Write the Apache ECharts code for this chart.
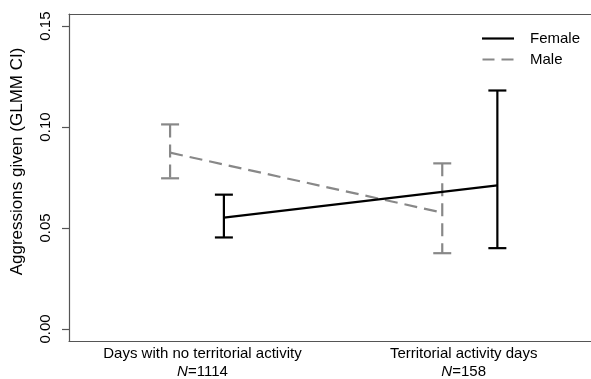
<!DOCTYPE html>
<html>
<head>
<meta charset="utf-8">
<script src="https://cdn.jsdelivr.net/npm/echarts@6/dist/echarts.min.js"></script>
<style>
  html, body { margin: 0; padding: 0; background: #fff; }
  #chart { width: 591px; height: 379px; }
</style>
</head>
<body>
<div id="chart"></div>
<script>
// category positions on the x scale and their labels
const categoryPos = [1, 2];
const categoryLabels = ['Days with no territorial activity', 'Territorial activity days'];
const sampleSizes = ['1114', '158'];

// dodged x positions of each group
const femaleX = [1.082, 2.129];
const maleX = [0.876, 1.918];

// GLMM estimates and CI bounds
const femaleMean = [0.0551, 0.0711];
const femaleLow = [0.0453, 0.0400];
const femaleHigh = [0.0665, 0.1181];
const maleMean = [0.0873, 0.0576];
const maleLow = [0.0746, 0.0375];
const maleHigh = [0.1013, 0.0820];

const yTicks = [0, 0.05, 0.10, 0.15];

const FONT = 'Liberation Sans, Arial, sans-serif';
const BOX = '#555';

const chart = echarts.init(document.getElementById('chart'));

function errorBarSeries(name, xs, lows, highs, color, dashed) {
    return {
        name: name,
        type: 'custom',
        silent: true,
        data: xs.map((x, i) => [x, lows[i], highs[i]]),
        renderItem: function (params, api) {
            const lo = api.coord([api.value(0), api.value(1)]);
            const hi = api.coord([api.value(0), api.value(2)]);
            const half = 9;
            const style = { stroke: color, lineWidth: 2.2 };
            const stemStyle = { stroke: color, lineWidth: 2.2, lineDash: dashed ? [13, 7] : null };
            return {
                type: 'group',
                children: [
                    { type: 'line', shape: { x1: hi[0], y1: hi[1], x2: lo[0], y2: lo[1] }, style: stemStyle },
                    { type: 'line', shape: { x1: hi[0] - half, y1: hi[1], x2: hi[0] + half, y2: hi[1] }, style: style },
                    { type: 'line', shape: { x1: lo[0] - half, y1: lo[1], x2: lo[0] + half, y2: lo[1] }, style: style }
                ]
            };
        },
        z: 3
    };
}

const option = {
    animation: false,
    grid: {
        left: 69,
        top: 14,
        bottom: 38,
        right: 0,
        show: false,
        outerBoundsMode: 'none',
        containLabel: false
    },
    legend: {
        orient: 'vertical',
        left: 482,
        top: 31,
        padding: 0,
        itemWidth: 32,
        itemHeight: 2.2,
        itemGap: 6,
        textStyle: { fontFamily: FONT, fontSize: 15, color: '#000', padding: [0, 0, 0, 11] },
        data: [
            { name: 'Female', icon: 'path://M0,0H32V2.2H0Z' },
            { name: 'Male', icon: 'path://M0,0H12V2.2H0Z M19,0H31V2.2H19Z' }
        ]
    },
    xAxis: [
        {
            type: 'value',
            min: 0.489,
            max: 2.4875,
            axisLine: { show: true, onZero: false, lineStyle: { color: BOX, width: 1.2 } },
            axisTick: { show: false },
            splitLine: { show: false },
            axisLabel: {
                customValues: categoryPos,
                margin: 4,
                color: '#000',
                fontFamily: FONT,
                fontSize: 15,
                lineHeight: 18,
                formatter: function (v) {
                    const i = categoryPos.indexOf(Math.round(v));
                    return categoryLabels[i] + '\n{it|N}=' + sampleSizes[i];
                },
                rich: {
                    it: { fontStyle: 'italic', fontFamily: FONT, fontSize: 15, color: '#000' }
                }
            }
        },
        {
            // top edge of the box
            type: 'value',
            position: 'top',
            min: 0.489,
            max: 2.4875,
            axisLine: { show: true, onZero: false, lineStyle: { color: BOX, width: 1.2 } },
            axisTick: { show: false },
            axisLabel: { show: false },
            splitLine: { show: false }
        }
    ],
    yAxis: {
        type: 'value',
        min: -0.006,
        max: 0.156,
        name: 'Aggressions given (GLMM CI)',
        nameLocation: 'middle',
        nameRotate: 90,
        nameGap: 43,
        nameTextStyle: {
            fontFamily: FONT,
            fontSize: 17,
            color: '#000',
            padding: [0, 0, 0, 32]
        },
        axisLine: { show: true, onZero: false, lineStyle: { color: BOX, width: 1.2 } },
        splitLine: { show: false },
        axisTick: {
            show: true,
            customValues: yTicks,
            length: 7,
            lineStyle: { color: BOX, width: 1.2 }
        },
        axisLabel: {
            customValues: yTicks,
            rotate: 90,
            margin: 16,
            color: '#000',
            fontFamily: FONT,
            fontSize: 15,
            formatter: v => v.toFixed(2)
        }
    },
    series: [
        {
            name: 'Female',
            type: 'line',
            symbol: 'none',
            data: femaleX.map((x, i) => [x, femaleMean[i]]),
            lineStyle: { color: '#000', width: 2.2 },
            itemStyle: { color: '#000' },
            z: 4
        },
        {
            name: 'Male',
            type: 'line',
            symbol: 'none',
            data: maleX.map((x, i) => [x, maleMean[i]]),
            lineStyle: { color: '#888', width: 2.2, type: [13, 7] },
            itemStyle: { color: '#888' },
            z: 2
        },
        errorBarSeries('Female CI', femaleX, femaleLow, femaleHigh, '#000', false),
        errorBarSeries('Male CI', maleX, maleLow, maleHigh, '#888', true)
    ]
};

chart.setOption(option);
</script>
</body>
</html>
